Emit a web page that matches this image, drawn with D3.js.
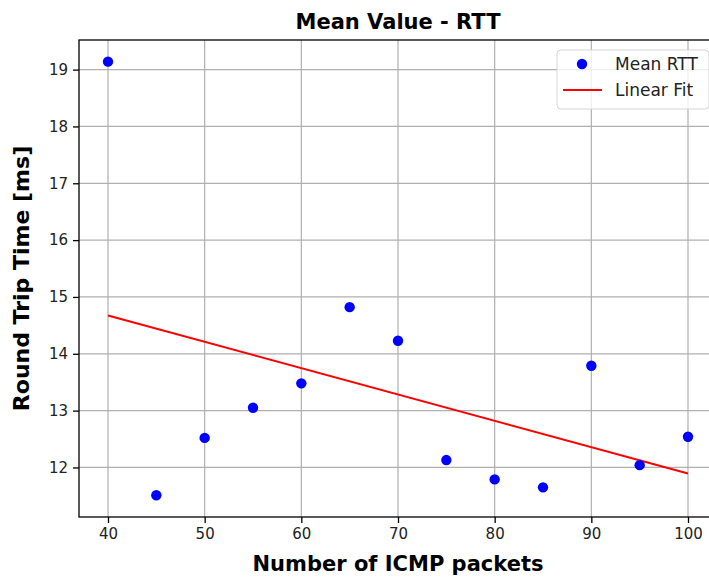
<!DOCTYPE html>
<html>
  <head>
    <meta charset="utf-8" />
    <title>Mean Value - RTT</title>
    <script src="https://d3js.org/d3.v7.min.js"></script>
    <style>
      body { margin: 0; background: #fff; }
      text { font-family: "DejaVu Sans", sans-serif; }
    </style>
  </head>
  <body>
    <svg id="chart" width="709" height="578"></svg>
    <script>
      // Datos
      const packets = [40, 45, 50, 55, 60, 65, 70, 75, 80, 85, 90, 95, 100];
      const meanRtt = [19.14, 11.51, 12.52, 13.05, 13.48, 14.82, 14.23, 12.13, 11.79, 11.65, 13.79, 12.04, 12.54];
      const xTicks = [40, 50, 60, 70, 80, 90, 100];
      const yTicks = [12, 13, 14, 15, 16, 17, 18, 19];
      const legendLabels = ["Mean RTT", "Linear Fit"];

      const svg = d3.select("#chart");
      const margin = { top: 40, right: -8, bottom: 61, left: 79 };
      const width = 709 - margin.left - margin.right;
      const height = 578 - margin.top - margin.bottom;

      const x = d3.scaleLinear().domain([37, 103]).range([0, width]);
      const y = d3.scaleLinear().domain([11.128, 19.521]).range([height, 0]);

      const g = svg
        .append("g")
        .attr("transform", `translate(${margin.left},${margin.top})`);

      // Rejilla
      g.append("g")
        .selectAll("line")
        .data(xTicks)
        .enter()
        .append("line")
        .attr("x1", (d) => x(d))
        .attr("x2", (d) => x(d))
        .attr("y1", 0)
        .attr("y2", height)
        .style("stroke", "#b0b0b0")
        .style("stroke-width", 1.2);
      g.append("g")
        .selectAll("line")
        .data(yTicks)
        .enter()
        .append("line")
        .attr("x1", 0)
        .attr("x2", width)
        .attr("y1", (d) => y(d))
        .attr("y2", (d) => y(d))
        .style("stroke", "#b0b0b0")
        .style("stroke-width", 1.2);

      // Ejes
      const xAxis = g
        .append("g")
        .attr("transform", `translate(0,${height})`)
        .call(d3.axisBottom(x).tickValues(xTicks).tickSize(6).tickPadding(5));
      const yAxis = g
        .append("g")
        .call(d3.axisLeft(y).tickValues(yTicks).tickSize(6).tickPadding(5));
      [xAxis, yAxis].forEach((a) => {
        a.select(".domain").remove();
        a.selectAll("line").style("stroke", "#000").style("stroke-width", 1.3);
        a.selectAll("text")
          .style("font-size", "15px")
          .style("fill", "#222")
          .style("font-family", "DejaVu Sans, sans-serif");
      });

      // Marco
      g.append("rect")
        .attr("width", width)
        .attr("height", height)
        .style("fill", "none")
        .style("stroke", "#000")
        .style("stroke-width", 1.3);

      // Ajuste lineal (mínimos cuadrados)
      const mx = d3.mean(packets);
      const my = d3.mean(meanRtt);
      const slope =
        d3.sum(packets, (p, i) => (p - mx) * (meanRtt[i] - my)) /
        d3.sum(packets, (p) => (p - mx) * (p - mx));
      const fit = (p) => my + slope * (p - mx);
      const ends = d3.extent(packets);

      g.append("line")
        .attr("x1", x(ends[0]))
        .attr("y1", y(fit(ends[0])))
        .attr("x2", x(ends[1]))
        .attr("y2", y(fit(ends[1])))
        .style("stroke", "red")
        .style("stroke-width", 2);

      // Puntos
      g.append("g")
        .selectAll("circle")
        .data(packets)
        .enter()
        .append("circle")
        .attr("cx", (d) => x(d))
        .attr("cy", (d, i) => y(meanRtt[i]))
        .attr("r", 5.2)
        .style("fill", "blue");

      // Títulos
      svg
        .append("text")
        .attr("x", margin.left + width / 2)
        .attr("y", 29)
        .attr("text-anchor", "middle")
        .style("font-size", "21px")
        .style("font-weight", "bold")
        .text("Mean Value - RTT");
      svg
        .append("text")
        .attr("x", margin.left + width / 2)
        .attr("y", 571)
        .attr("text-anchor", "middle")
        .style("font-size", "21px")
        .style("font-weight", "bold")
        .text("Number of ICMP packets");
      svg
        .append("text")
        .attr("transform", `translate(29,${margin.top + height / 2}) rotate(-90)`)
        .attr("text-anchor", "middle")
        .style("font-size", "22px")
        .style("font-weight", "bold")
        .text("Round Trip Time [ms]");

      // Leyenda
      const legend = svg.append("g").attr("transform", "translate(557,50)");
      legend
        .append("rect")
        .attr("width", 152)
        .attr("height", 59)
        .attr("rx", 4)
        .style("fill", "#fff")
        .style("fill-opacity", 0.8)
        .style("stroke", "#d5d5d5")
        .style("stroke-width", 1);
      legend
        .append("circle")
        .attr("cx", 25)
        .attr("cy", 14)
        .attr("r", 5.2)
        .style("fill", "blue");
      legend
        .append("line")
        .attr("x1", 6)
        .attr("x2", 45)
        .attr("y1", 40)
        .attr("y2", 40)
        .style("stroke", "red")
        .style("stroke-width", 2);
      legend
        .selectAll(".lab")
        .data(legendLabels)
        .enter()
        .append("text")
        .attr("class", "lab")
        .attr("x", 58)
        .attr("y", (d, i) => 20 + i * 26)
        .style("font-size", "17px")
        .style("fill", "#222")
        .text((d) => d);
    </script>
  </body>
</html>
